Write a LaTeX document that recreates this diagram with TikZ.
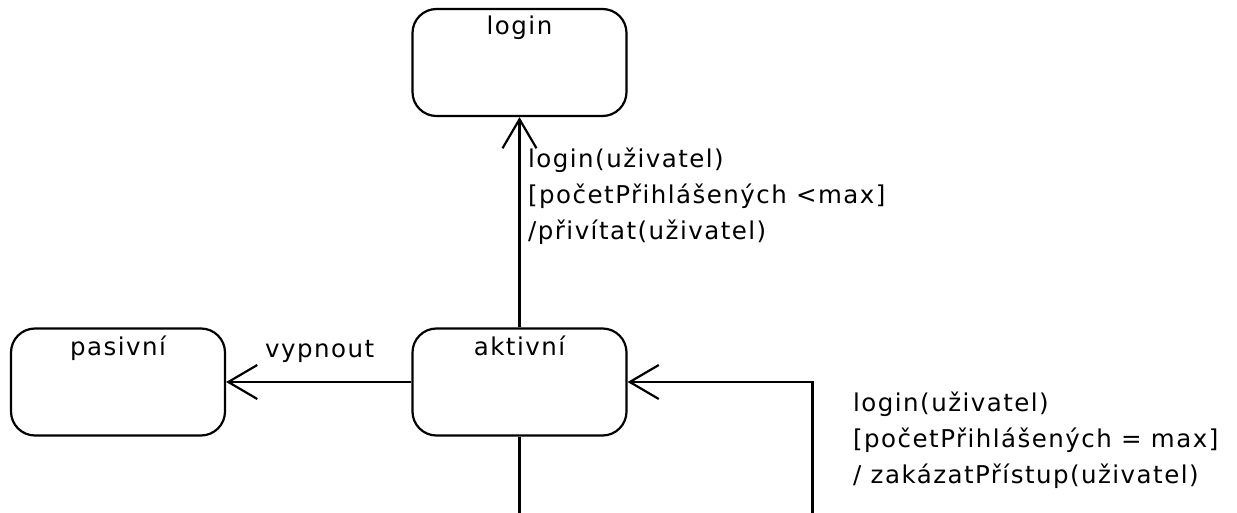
\documentclass[tikz,border=0pt]{standalone}
\usepackage{fontspec}
\setmainfont{DejaVu Sans}[LetterSpace=6]
\usetikzlibrary{arrows.meta}
\begin{document}
\begin{tikzpicture}[x=1pt,y=-1pt,
  statebox/.style={draw, line width=2.2pt, rounded corners=24pt, minimum width=214pt, minimum height=107pt, inner sep=0pt},
  lbl/.style={inner sep=0pt, font=\fontsize{24.5}{36}\selectfont},
  edge/.style={line width=2.2pt, -{Straight Barb[length=29pt,width=34pt,line width=2.2pt]}},
  plain/.style={line width=2.2pt}]
\useasboundingbox (0,0) rectangle (1237,513);
\node[statebox, label={[lbl, anchor=base, label distance=-26.5pt]north:login}] (login) at (519.5,62.5) {};
\node[statebox, label={[lbl, anchor=base, label distance=-28pt]north:aktivní}] (aktivni) at (519.5,382) {};
\node[statebox, label={[lbl, anchor=base, label distance=-28pt]north:pasivní}] (pasivni) at (118,382) {};
\coordinate (bot1) at (519.5,513);
\coordinate (bot2) at (812.5,513);
\draw[edge] (aktivni.north) -- (login.south);
\draw[edge] (aktivni.west) -- (pasivni.east);
\draw[plain] (aktivni.south) -- (bot1);
\draw[edge] (bot2) |- (aktivni.east);
\node[lbl, anchor=base west] (vyp) at (265,357) {vypnout};
\node[lbl, anchor=base west, align=left] (g1) at (528,240) {login(uživatel)\\{[}početPřihlášených <max{]}\\/přivítat(uživatel)};
\node[lbl, anchor=base west, align=left] (g2) at (853,483) {login(uživatel)\\{[}početPřihlášených = max{]}\\/ zakázatPřístup(uživatel)};
\end{tikzpicture}
\end{document}
